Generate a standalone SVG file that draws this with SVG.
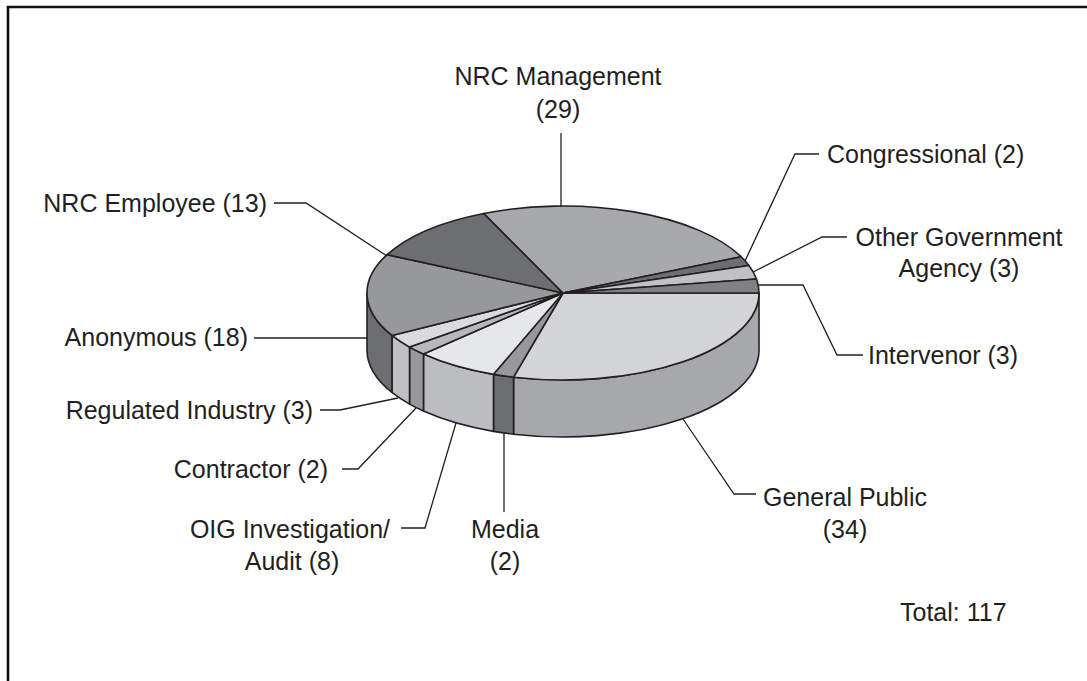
<svg xmlns="http://www.w3.org/2000/svg" width="1087" height="681" viewBox="0 0 1087 681">
<style>
.s{stroke:#231f20;stroke-width:1.6;stroke-linejoin:round}
.l{fill:none;stroke:#231f20;stroke-width:1.3}
text{font-family:"Liberation Sans",Arial,sans-serif;font-size:25px;fill:#231f20}
.m{text-anchor:middle}
.e{text-anchor:end}
</style>
<rect width="1087" height="681" fill="#ffffff"/>
<path d="M8 681 L8 7 L1087 7" fill="none" stroke="#111" stroke-width="2.6"/>
<g id="pie">
<g id="general-public">
<path class="s" fill="#a7a8ab" d="M759 293 A196 87 0 0 1 513.55 377.19 L513.55 434.19 A196 87 0 0 0 759 350 Z"/>
<path class="s" fill="#d3d4d6" d="M563 293 L759 293 A196 87 0 0 1 513.55 377.19 Z"/>
<text class="m" x="845" y="506">General Public</text>
<text class="m" x="845" y="538">(34)</text>
</g>
<g id="media">
<path class="s" fill="#6d6e71" d="M513.55 377.19 A196 87 0 0 1 493.5 374.35 L493.5 431.35 A196 87 0 0 0 513.55 434.19 Z"/>
<path class="s" fill="#97989b" d="M563 293 L513.55 377.19 A196 87 0 0 1 493.5 374.35 Z"/>
<text class="m" x="505" y="538">Media</text>
<text class="m" x="505" y="570">(2)</text>
</g>
<g id="oig">
<path class="s" fill="#bcbdc0" d="M493.5 374.35 A196 87 0 0 1 423.48 354.1 L423.48 411.1 A196 87 0 0 0 493.5 431.35 Z"/>
<path class="s" fill="#e6e7e8" d="M563 293 L493.5 374.35 A196 87 0 0 1 423.48 354.1 Z"/>
<text class="e" x="390" y="538">OIG Investigation/</text>
<text class="m" x="292" y="570">Audit (8)</text>
</g>
<g id="contractor">
<path class="s" fill="#97989b" d="M423.48 354.1 A196 87 0 0 1 409.53 347.11 L409.53 404.11 A196 87 0 0 0 423.48 411.1 Z"/>
<path class="s" fill="#b7b8bb" d="M563 293 L423.48 354.1 A196 87 0 0 1 409.53 347.11 Z"/>
<text class="e" x="328" y="478">Contractor (2)</text>
</g>
<g id="regulated-industry">
<path class="s" fill="#bfc0c2" d="M409.53 347.11 A196 87 0 0 1 391.96 335.48 L391.96 392.48 A196 87 0 0 0 409.53 404.11 Z"/>
<path class="s" fill="#dadbdd" d="M563 293 L409.53 347.11 A196 87 0 0 1 391.96 335.48 Z"/>
<text class="e" x="313" y="419">Regulated Industry (3)</text>
</g>
<g id="anonymous">
<path class="s" fill="#6d6e71" d="M391.96 335.48 A196 87 0 0 1 367 293 L367 350 A196 87 0 0 0 391.96 392.48 Z"/>
<path class="s" fill="#97989b" d="M563 293 L391.96 335.48 A196 87 0 0 1 387.07 254.65 Z"/>
<text class="e" x="248" y="346">Anonymous (18)</text>
</g>
<g id="nrc-employee">
<path class="s" fill="#6d6e71" d="M563 293 L387.07 254.65 A196 87 0 0 1 483.76 213.43 Z"/>
<text class="e" x="267" y="212">NRC Employee (13)</text>
</g>
<g id="nrc-management">
<path class="s" fill="#a8a9ac" d="M563 293 L483.76 213.43 A196 87 0 0 1 741.19 256.76 Z"/>
<text class="m" x="558" y="85">NRC Management</text>
<text class="m" x="558" y="118">(29)</text>
</g>
<g id="congressional">
<path class="s" fill="#6d6e71" d="M563 293 L741.19 256.76 A196 87 0 0 1 748.91 265.45 Z"/>
<text x="827" y="163">Congressional (2)</text>
</g>
<g id="other-government-agency">
<path class="s" fill="#c0c1c3" d="M563 293 L748.91 265.45 A196 87 0 0 1 756.46 279.04 Z"/>
<text class="m" x="959" y="246">Other Government</text>
<text class="m" x="959" y="277">Agency (3)</text>
</g>
<g id="intervenor">
<path class="s" fill="#808184" d="M563 293 L756.46 279.04 A196 87 0 0 1 759 293 Z"/>
<text x="868" y="364">Intervenor (3)</text>
</g>
</g>
<g id="connectors">
<path class="l" d="M561 133 L561 207"/>
<path class="l" d="M819 154 L795 154 L745 261"/>
<path class="l" d="M847 237 L822 237 L753 272"/>
<path class="l" d="M758 285 L803 285 L837 355 L863 355"/>
<path class="l" d="M683 419 L734 494 L756 494"/>
<path class="l" d="M504 433 L504 512"/>
<path class="l" d="M456 423 L425 528 L401 528"/>
<path class="l" d="M416 408 L358 469 L342 469"/>
<path class="l" d="M398 398 L340 410 L320 410"/>
<path class="l" d="M367 338 L254 338"/>
<path class="l" d="M387 256 L306 203 L274 203"/>
</g>
<text id="total" x="900" y="621">Total: 117</text>
</svg>
